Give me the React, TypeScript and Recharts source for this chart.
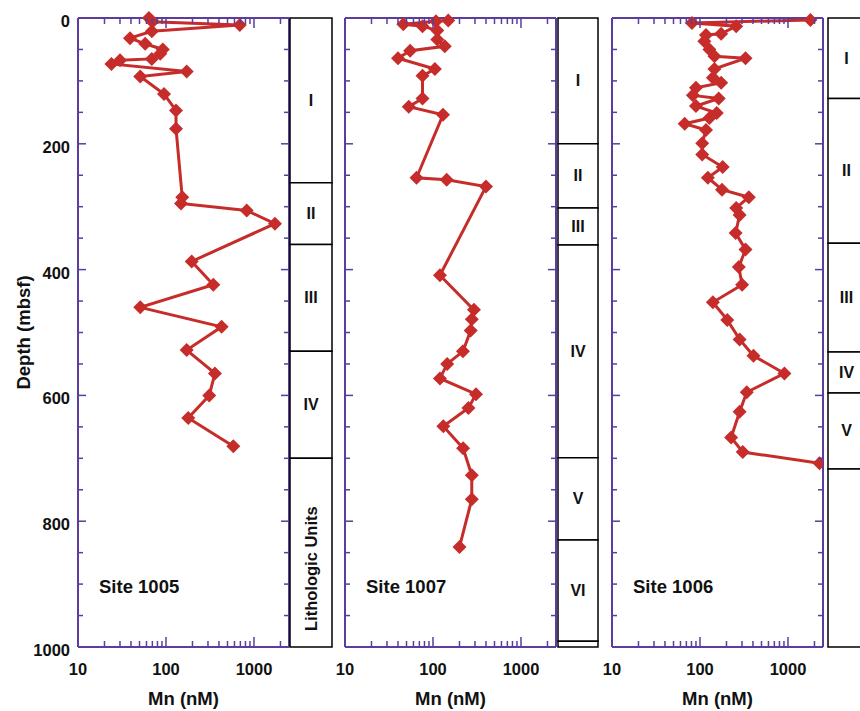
import React from "react";
import {
  ScatterChart,
  Scatter,
  XAxis,
  YAxis,
  ReferenceArea,
} from "recharts";

// Dissolved Mn (nM) vs depth (mbsf), one pair of arrays per site
const site1005Depth = [0, 6, 11, 21, 32, 41, 50, 57, 65, 67, 73, 85, 93, 121, 147, 176, 285, 295, 306, 327, 387, 424, 460, 491, 528, 565, 600, 636, 681];
const site1005Mn = [64, 70, 690, 69, 39, 58, 92, 86, 69, 30, 24, 172, 51, 95, 130, 130, 153, 148, 826, 1730, 196, 345, 51, 429, 172, 360, 310, 179, 582];

const site1007Depth = [4, 5, 10, 13, 20, 34, 45, 52, 64, 81, 92, 128, 141, 154, 254, 257, 268, 409, 464, 479, 497, 530, 550, 573, 598, 620, 649, 684, 727, 765, 841];
const site1007Mn = [149, 108, 46, 76, 112, 112, 136, 55, 40, 105, 76, 76, 53, 130, 65, 143, 400, 120, 292, 276, 268, 219, 145, 120, 308, 253, 131, 220, 276, 276, 200];

const site1006Depth = [3, 8, 13, 25, 27, 37, 50, 61, 64, 81, 95, 103, 111, 123, 128, 140, 151, 159, 168, 178, 199, 217, 237, 254, 273, 285, 302, 313, 342, 368, 396, 424, 452, 480, 511, 537, 565, 595, 626, 667, 690, 708];
const site1006Mn = [1800, 81, 258, 174, 117, 112, 128, 146, 329, 146, 140, 174, 90, 83, 163, 90, 155, 128, 67, 117, 106, 106, 181, 123, 178, 359, 258, 282, 254, 329, 276, 301, 140, 204, 282, 405, 912, 340, 282, 226, 306, 2280];

// Lithologic units: top, base (mbsf) and name
const units1005Top = [0, 262, 360, 530, 700];
const units1005Base = [262, 360, 530, 700, 1000];
const units1005Names = ["I", "II", "III", "IV", "Lithologic Units"];

const units1007Top = [0, 200, 302, 361, 699, 830, 991];
const units1007Base = [200, 302, 361, 699, 830, 991, 1000];
const units1007Names = ["I", "II", "III", "IV", "V", "VI", ""];

const units1006Top = [0, 128, 358, 531, 596, 717];
const units1006Base = [128, 358, 531, 596, 717, 1000];
const units1006Names = ["I", "II", "III", "IV", "V", ""];

// Axis ticks
const mnTicks = [10, 20, 30, 40, 50, 60, 70, 80, 90, 100, 200, 300, 400, 500, 600, 700, 800, 900, 1000, 2000];
const mnLabels = [10, 100, 1000];
const depthTicks = [0, 50, 100, 150, 200, 250, 300, 350, 400, 450, 500, 550, 600, 650, 700, 750, 800, 850, 900, 950, 1000];
const depthLabels = [0, 200, 400, 600, 800, 1000];

const PURPLE = "#5b3d9f";
const RED = "#c62d2a";
const INK = "#111";
const FONT = "'Liberation Sans', Arial, Helvetica, sans-serif";

const H = 711;
const TOP = 18;
const BOTTOM = 64;
const PLOT_H = H - TOP - BOTTOM;
const AXIS_W = 78;
const PLOT_W = 211;

const boldText = { fontFamily: FONT, fontWeight: 700, fill: INK };

// bottom axis tick; also mirrors the tick mark onto the top frame edge
function MnTick({ x, y, payload }: any) {
  const v = payload.value;
  const major = mnLabels.includes(v);
  const len = major ? 10 : 6;
  const topY = y - PLOT_H;
  return (
    <g>
      <line x1={x} x2={x} y1={y} y2={y - len} stroke={PURPLE} strokeWidth={1.5} />
      <line x1={x} x2={x} y1={topY} y2={topY + len} stroke={PURPLE} strokeWidth={1.5} />
      {major && (
        <text x={x} y={y + 22} textAnchor="middle" dominantBaseline="central" style={{ ...boldText, fontSize: 16.5 }}>
          {v}
        </text>
      )}
    </g>
  );
}

function DepthTick({ x, y, payload, side, showLabels }: any) {
  const v = payload.value;
  const major = depthLabels.includes(v);
  const len = major ? 8 : 5;
  const dir = side === "left" ? 1 : -1;
  return (
    <g>
      <line x1={x} x2={x + dir * len} y1={y} y2={y} stroke={PURPLE} strokeWidth={1.5} />
      {showLabels && major && (
        <text x={x - 8} y={y + 3} textAnchor="end" dominantBaseline="central" style={{ ...boldText, fontSize: 16.5 }}>
          {v}
        </text>
      )}
    </g>
  );
}

const Diamond = (p: any) => {
  const { cx, cy } = p;
  if (cx == null || cy == null) return <g />;
  const r = 7;
  return (
    <polygon
      points={`${cx},${cy - r} ${cx + r},${cy} ${cx},${cy + r} ${cx - r},${cy}`}
      fill={RED}
    />
  );
};

const Nothing = () => <g />;

function Profile({ depth, mn, site, showDepth }: any) {
  const data = depth.map((d: number, i: number) => ({ depth: d, mn: mn[i] }));
  return (
    <ScatterChart width={AXIS_W + PLOT_W + 2} height={H} margin={{ top: 0, right: 0, bottom: 0, left: 0 }}>
      <XAxis
        xAxisId="top"
        dataKey="mn"
        orientation="top"
        type="number"
        scale="log"
        domain={[10, 2500]}
        allowDataOverflow
        height={TOP}
        axisLine={{ stroke: PURPLE, strokeWidth: 2 }}
        tickLine={false}
        tick={false}
      />
      <XAxis
        dataKey="mn"
        type="number"
        scale="log"
        domain={[10, 2500]}
        allowDataOverflow
        ticks={mnTicks}
        interval={0}
        height={BOTTOM}
        tickSize={0}
        tickMargin={0}
        axisLine={{ stroke: PURPLE, strokeWidth: 2 }}
        tickLine={false}
        tick={(p: any) => <MnTick {...p} />}
        label={{
          content: (lp: any) => {
            const vb = lp.viewBox;
            return (
              <g>
                <text x={vb.x + vb.width / 2} y={vb.y + 51} textAnchor="middle" dominantBaseline="central" style={{ ...boldText, fontSize: 18.5 }}>
                  Mn (nM)
                </text>
                <text x={vb.x + 21} y={vb.y - 61} textAnchor="start" dominantBaseline="central" style={{ ...boldText, fontSize: 18.5 }}>
                  {site}
                </text>
              </g>
            );
          },
        }}
      />
      <YAxis
        dataKey="depth"
        type="number"
        domain={[0, 1000]}
        reversed
        ticks={depthTicks}
        interval={0}
        width={AXIS_W}
        tickSize={0}
        tickMargin={0}
        axisLine={{ stroke: PURPLE, strokeWidth: 2 }}
        tickLine={false}
        tick={(p: any) => <DepthTick {...p} side="left" showLabels={showDepth} />}
        label={
          showDepth
            ? {
                content: (lp: any) => {
                  const vb = lp.viewBox;
                  const cx = vb.x + 23;
                  const cy = vb.y + vb.height / 2;
                  return (
                    <text x={cx} y={cy} transform={`rotate(-90 ${cx} ${cy})`} textAnchor="middle" dominantBaseline="central" style={{ ...boldText, fontSize: 18.5 }}>
                      Depth (mbsf)
                    </text>
                  );
                },
              }
            : undefined
        }
      />
      <YAxis
        yAxisId="right"
        dataKey="depth"
        orientation="right"
        type="number"
        domain={[0, 1000]}
        reversed
        ticks={depthTicks}
        interval={0}
        width={2}
        tickSize={0}
        tickMargin={0}
        axisLine={{ stroke: PURPLE, strokeWidth: 2 }}
        tickLine={false}
        tick={(p: any) => <DepthTick {...p} side="right" showLabels={false} />}
      />
      {/* invisible copy so the mirrored top/right axes have something to scale */}
      <Scatter xAxisId="top" yAxisId="right" data={data} shape={Nothing} isAnimationActive={false} />
      <Scatter
        data={data}
        fill={RED}
        line={{ stroke: RED, strokeWidth: 3 }}
        lineType="joint"
        shape={Diamond}
        isAnimationActive={false}
      />
    </ScatterChart>
  );
}

const unitLabel = (name: string) => ({
  content: (lp: any) => {
    const vb = lp.viewBox;
    const cx = vb.x + vb.width / 2;
    const vertical = name.length > 4;
    const cy = vb.y + vb.height / 2 + (vertical ? 16 : 0);
    return (
      <text
        x={cx}
        y={cy}
        transform={vertical ? `rotate(-90 ${cx} ${cy})` : undefined}
        textAnchor="middle"
        dominantBaseline="central"
        style={{ ...boldText, fontSize: vertical ? 16.5 : 16 }}
      >
        {name}
      </text>
    );
  },
});

function LithColumn({ top, base, names, width }: any) {
  const anchors = top.map((t: number) => ({ x: 0.5, depth: t }));
  return (
    <ScatterChart width={width + 2} height={H} margin={{ top: TOP, right: 1, bottom: BOTTOM, left: 1 }}>
      <XAxis dataKey="x" type="number" domain={[0, 1]} hide />
      <YAxis dataKey="depth" type="number" domain={[0, 1000]} reversed hide />
      <Scatter data={anchors} shape={Nothing} isAnimationActive={false} />
      {names.map((n: string, i: number) => (
        <ReferenceArea
          key={i}
          x1={0}
          x2={1}
          y1={top[i]}
          y2={base[i]}
          fill="#fff"
          fillOpacity={1}
          stroke="#000"
          strokeWidth={1.5}
          label={unitLabel(n)}
        />
      ))}
    </ScatterChart>
  );
}

const place = (left: number): React.CSSProperties => ({ position: "absolute", left, top: 0 });

export default function App() {
  return (
    <div style={{ position: "absolute", left: 0, top: 0, width: 860, height: H, overflow: "hidden", background: "#fff" }}>
      <div style={place(0)}>
        <Profile depth={site1005Depth} mn={site1005Mn} site="Site 1005" showDepth />
      </div>
      <div style={place(289)}>
        <LithColumn top={units1005Top} base={units1005Base} names={units1005Names} width={42} />
      </div>
      <div style={place(267)}>
        <Profile depth={site1007Depth} mn={site1007Mn} site="Site 1007" showDepth={false} />
      </div>
      <div style={place(557)}>
        <LithColumn top={units1007Top} base={units1007Base} names={units1007Names} width={40} />
      </div>
      <div style={place(534)}>
        <Profile depth={site1006Depth} mn={site1006Mn} site="Site 1006" showDepth={false} />
      </div>
      <div style={place(827)}>
        <LithColumn top={units1006Top} base={units1006Base} names={units1006Names} width={37} />
      </div>
    </div>
  );
}
